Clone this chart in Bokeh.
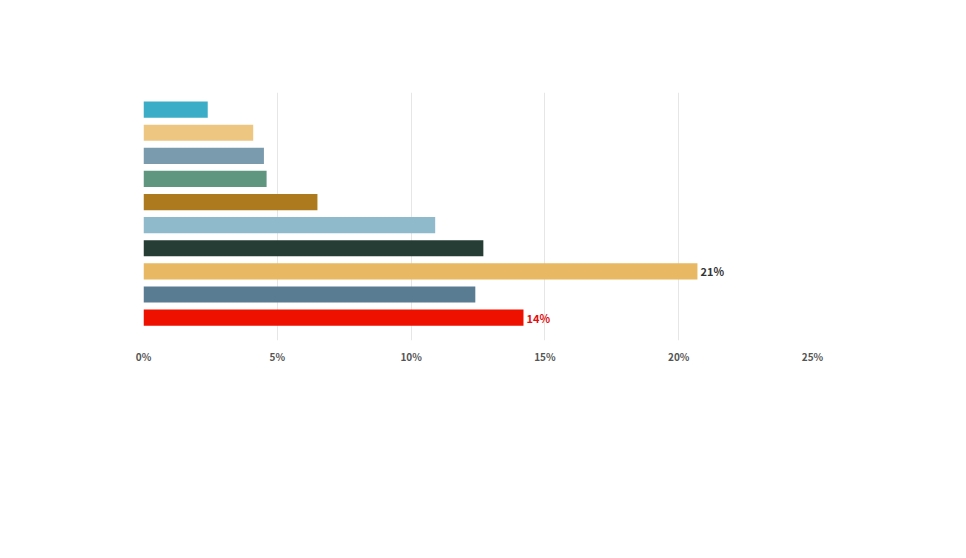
from bokeh.plotting import figure
from bokeh.models import Range1d, Label, BoxAnnotation, ColumnDataSource, FixedTicker
from bokeh.core.properties import value
from bokeh.embed import file_html
from bokeh.resources import INLINE

features = ["카메라 줌, 나이트모드", "고속 충전", "먼지 방지 기능", "데이터 연결 속도", "저장 용량",
            "스크린 품질", "프로세서 속도", "배터리 수명", "강도, 내구성", "개선된 방수 기능"]
values = [2.4, 4.1, 4.5, 4.6, 6.5, 10.9, 12.7, 20.7, 12.4, 14.2]
colors = ["#3BADC6", "#EDC681", "#7A9AAE", "#5E9680", "#AD7B1E",
          "#8EBACB", "#253D34", "#E8B862", "#5A7C93", "#EE1100"]
value_labels = ["", "", "", "", "", "", "", "21%", "", "14%"]
label_colors = ["#333333"] * 9 + ["#E01010"]
xticks = [0, 5, 10, 15, 20, 25]
category = "1위 기능"
title = "스마트폰에 새로 도입되길 바라는 기능"
source_note = "출처 : 고어 스마트폰 소비자 인식조사 – 2019년 8월"

FONT = "Noto Sans CJK KR"
W, H = 950, 542
p = figure(width=W, height=H, output_backend="svg", toolbar_location=None,
           x_range=Range1d(0, 25), y_range=Range1d(9.99, -0.74),
           min_border_left=143, min_border_right=138, min_border_top=92, min_border_bottom=202)
p.outline_line_color = None
p.ygrid.grid_line_color = None
p.xgrid.grid_line_color = "#E6E6E6"
p.yaxis.visible = False
p.xaxis.axis_line_color = None
p.xaxis.major_tick_line_color = None
p.xaxis.minor_tick_line_color = None
p.xaxis.ticker = FixedTicker(ticks=xticks)
p.xaxis.major_label_overrides = {t: f"{t}%" for t in xticks}
p.xaxis.major_label_text_font = FONT
p.xaxis.major_label_text_font_size = "10px"
p.xaxis.major_label_text_font_style = "bold"
p.xaxis.major_label_text_color = "#555555"
p.xaxis.major_label_standoff = 2

idx = list(range(len(values)))
src = ColumnDataSource(dict(y=idx, v=values, c=colors, lab=value_labels, lc=label_colors))
p.hbar(y="y", left=0, right="v", height=0.7, fill_color="c", line_color=None, source=src)
p.text(x="v", y="y", text="lab", text_color="lc", source=src, x_offset=3,
       text_font=value(FONT), text_font_size="11px", text_font_style="bold", text_baseline="middle")

def sx(page_x):
    return page_x - 143

def sy(page_y):
    return 340 - page_y

def box(l, r, t, b, color):
    return BoxAnnotation(left=l, right=r, top=t, bottom=b,
                         left_units="screen", right_units="screen", top_units="screen", bottom_units="screen",
                         fill_color=color, fill_alpha=1, line_color=None)

p.add_layout(Label(x=sx(83), y=sy(33), x_units="screen", y_units="screen", text=title,
                   text_font=FONT, text_font_size="19px", text_font_style="bold",
                   text_color="#1F5F6E", text_baseline="middle"))
p.add_layout(box(sx(83), sx(883), sy(50) + 0.5, sy(50) - 0.5, "#D8D8D8"))
p.add_layout(Label(x=sx(131), y=sy(213), x_units="screen", y_units="screen", text=category,
                   text_font=FONT, text_font_size="12px", text_color="#444444",
                   text_align="right", text_baseline="middle"))

rows = [390, 411, 433, 455, 476]
for i, (f, c) in enumerate(zip(features, colors)):
    col, row = i % 2, i // 2
    x0 = sx(190) if col == 0 else sx(549)
    y0 = sy(rows[row])
    tc = "#E01010" if i == len(features) - 1 else "#333333"
    p.add_layout(box(x0, x0 + 5, y0 + 3, y0 - 3, c))
    p.add_layout(Label(x=x0 + 7, y=y0, x_units="screen", y_units="screen", text=f,
                       text_font=FONT, text_font_size="15px", text_font_style="bold",
                       text_color=tc, text_baseline="middle"))

p.add_layout(Label(x=sx(922), y=sy(531), x_units="screen", y_units="screen", text=source_note,
                   text_font=FONT, text_font_size="11px", text_color="#555555",
                   text_align="right", text_baseline="middle"))

open("out.html", "w").write(file_html(p, INLINE))
